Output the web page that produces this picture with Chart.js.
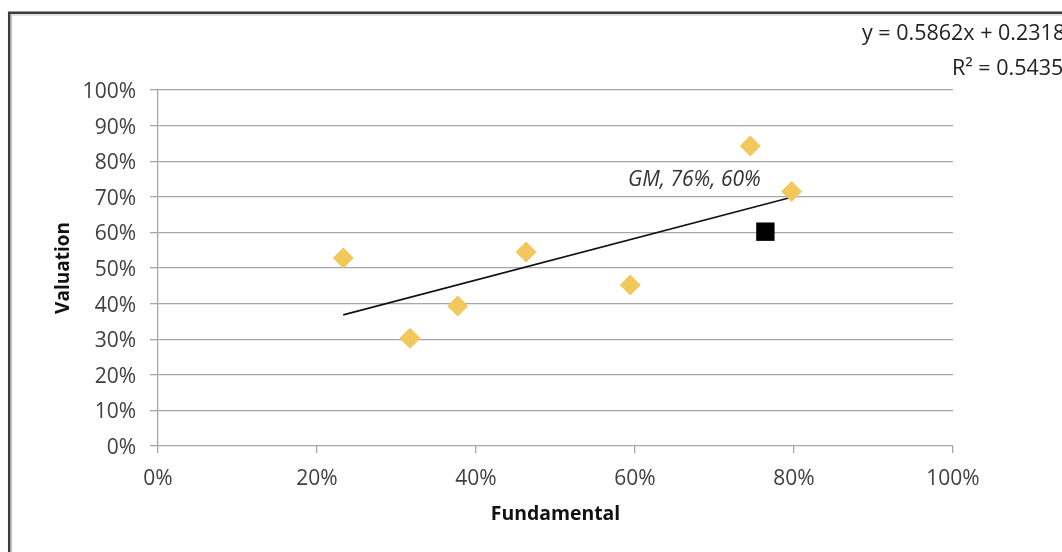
<!DOCTYPE html>
<html>
<head>
<meta charset="utf-8">
<script src="https://cdn.jsdelivr.net/npm/chart.js@4.4.1/dist/chart.umd.min.js"></script>
<style>
  html, body { margin: 0; padding: 0; background: #fff; }
  #wrap { width: 1062px; height: 552px; position: relative; }
</style>
</head>
<body>
<div id="wrap"><canvas id="c" width="1062" height="552"></canvas></div>
<script>
// Companies: fundamental score vs. valuation score
const fundamental = [0.233, 0.317, 0.377, 0.463, 0.594, 0.745, 0.797];
const valuation   = [0.528, 0.303, 0.393, 0.545, 0.452, 0.843, 0.715];

// Highlighted company
const gmName = 'GM';
const gmFundamental = 0.764;
const gmValuation = 0.602;

// Linear trend (fitted over all eight companies)
const trendSlope = 0.5862;
const trendIntercept = 0.2318;
const trendR2 = 0.5435;

const xTicks = [0, 0.2, 0.4, 0.6, 0.8, 1.0];
const yTicks = [0, 0.1, 0.2, 0.3, 0.4, 0.5, 0.6, 0.7, 0.8, 0.9, 1.0];

const pct = v => Math.round(v * 100) + '%';

const allX = fundamental.concat([gmFundamental]);
const xMin = Math.min(...allX), xMax = Math.max(...allX);
const trendPoints = [xMin, xMax].map(x => ({ x, y: trendSlope * x + trendIntercept }));

const FONT = "'Open Sans', 'Liberation Sans', sans-serif";
const GRID = '#a6a6a6';
const TEXT = '#404040';

const decorations = {
  id: 'decorations',
  beforeDraw(chart) {
    const ctx = chart.ctx;
    ctx.save();
    // chart frame (left and top edges)
    ctx.strokeStyle = '#3a3a3a';
    ctx.lineWidth = 2.5;
    ctx.beginPath();
    ctx.moveTo(9.2, 552);
    ctx.lineTo(9.2, 12.8);
    ctx.lineTo(1062, 12.8);
    ctx.stroke();
    ctx.strokeStyle = '#c8c8c8';
    ctx.lineWidth = 1.2;
    ctx.beginPath();
    ctx.moveTo(11.6, 552);
    ctx.lineTo(11.6, 15);
    ctx.lineTo(1062, 15);
    ctx.stroke();
    ctx.restore();
  },
  afterDraw(chart) {
    const ctx = chart.ctx;
    const xs = chart.scales.x, ys = chart.scales.y;
    ctx.save();
    // trendline equation
    ctx.fillStyle = '#222';
    ctx.font = "21.5px " + FONT;
    ctx.textBaseline = 'middle';
    ctx.textAlign = 'left';
    ctx.fillText('y = ' + trendSlope.toFixed(4) + 'x + ' + trendIntercept.toFixed(4), 862, 34);
    ctx.fillText('R\u00B2 = ' + trendR2.toFixed(4), 952, 69);
    // highlighted company label
    ctx.font = "italic 21px " + FONT;
    ctx.fillStyle = '#333';
    ctx.textAlign = 'center';
    const px = xs.getPixelForValue(gmFundamental);
    const py = ys.getPixelForValue(gmValuation);
    ctx.fillText(gmName + ', ' + pct(gmFundamental) + ', ' + pct(gmValuation), px - 71, py - 52);
    ctx.restore();
  }
};

new Chart(document.getElementById('c'), {
  type: 'scatter',
  data: {
    datasets: [
      {
        label: 'Trend',
        type: 'line',
        data: trendPoints,
        borderColor: '#111',
        borderWidth: 1.6,
        pointRadius: 0,
        fill: false,
        order: 3
      },
      {
        label: 'Companies',
        data: fundamental.map((x, i) => ({ x, y: valuation[i] })),
        pointStyle: 'rectRot',
        pointRadius: 10.5,
        pointHoverRadius: 10.5,
        backgroundColor: '#f2c75c',
        borderColor: '#f2c75c',
        borderWidth: 0,
        order: 2
      },
      {
        label: gmName,
        data: [{ x: gmFundamental, y: gmValuation }],
        pointStyle: 'rect',
        pointRadius: 13,
        pointHoverRadius: 13,
        backgroundColor: '#000',
        borderColor: '#000',
        borderWidth: 0,
        order: 1
      }
    ]
  },
  options: {
    responsive: false,
    animation: false,
    events: [],
    layout: { padding: { top: 90, right: 109, left: 0, bottom: 0 } },
    plugins: { legend: { display: false }, tooltip: { enabled: false } },
    scales: {
      x: {
        type: 'linear',
        min: 0, max: 1,
        afterBuildTicks: s => { s.ticks = xTicks.map(v => ({ value: v })); },
        afterFit: s => { s.height = 106; },
        border: { display: false },
        grid: { drawOnChartArea: false, drawTicks: true, tickLength: 7, color: GRID, lineWidth: 1.3 },
        ticks: { color: TEXT, font: { family: FONT, size: 21 }, padding: 13, callback: v => pct(v), maxRotation: 0 },
        title: { display: true, text: 'Fundamental', color: '#111', font: { family: FONT, size: 19.4, weight: 'bold' }, padding: { bottom: 26, top: 0 } }
      },
      y: {
        type: 'linear',
        min: 0, max: 1,
        afterBuildTicks: s => { s.ticks = yTicks.map(v => ({ value: v })); },
        afterFit: s => { s.width = 158; },
        border: { display: true, color: GRID, width: 1.3 },
        grid: { drawOnChartArea: true, drawTicks: true, tickLength: 8, color: GRID, lineWidth: 1.3 },
        ticks: { color: TEXT, font: { family: FONT, size: 21 }, padding: 14, labelOffset: 2, callback: v => pct(v) },
        title: { display: true, text: 'Valuation', color: '#111', font: { family: FONT, size: 19, weight: 'bold' }, padding: { top: 52, bottom: 0 } }
      }
    }
  },
  plugins: [decorations]
});
</script>
</body>
</html>
